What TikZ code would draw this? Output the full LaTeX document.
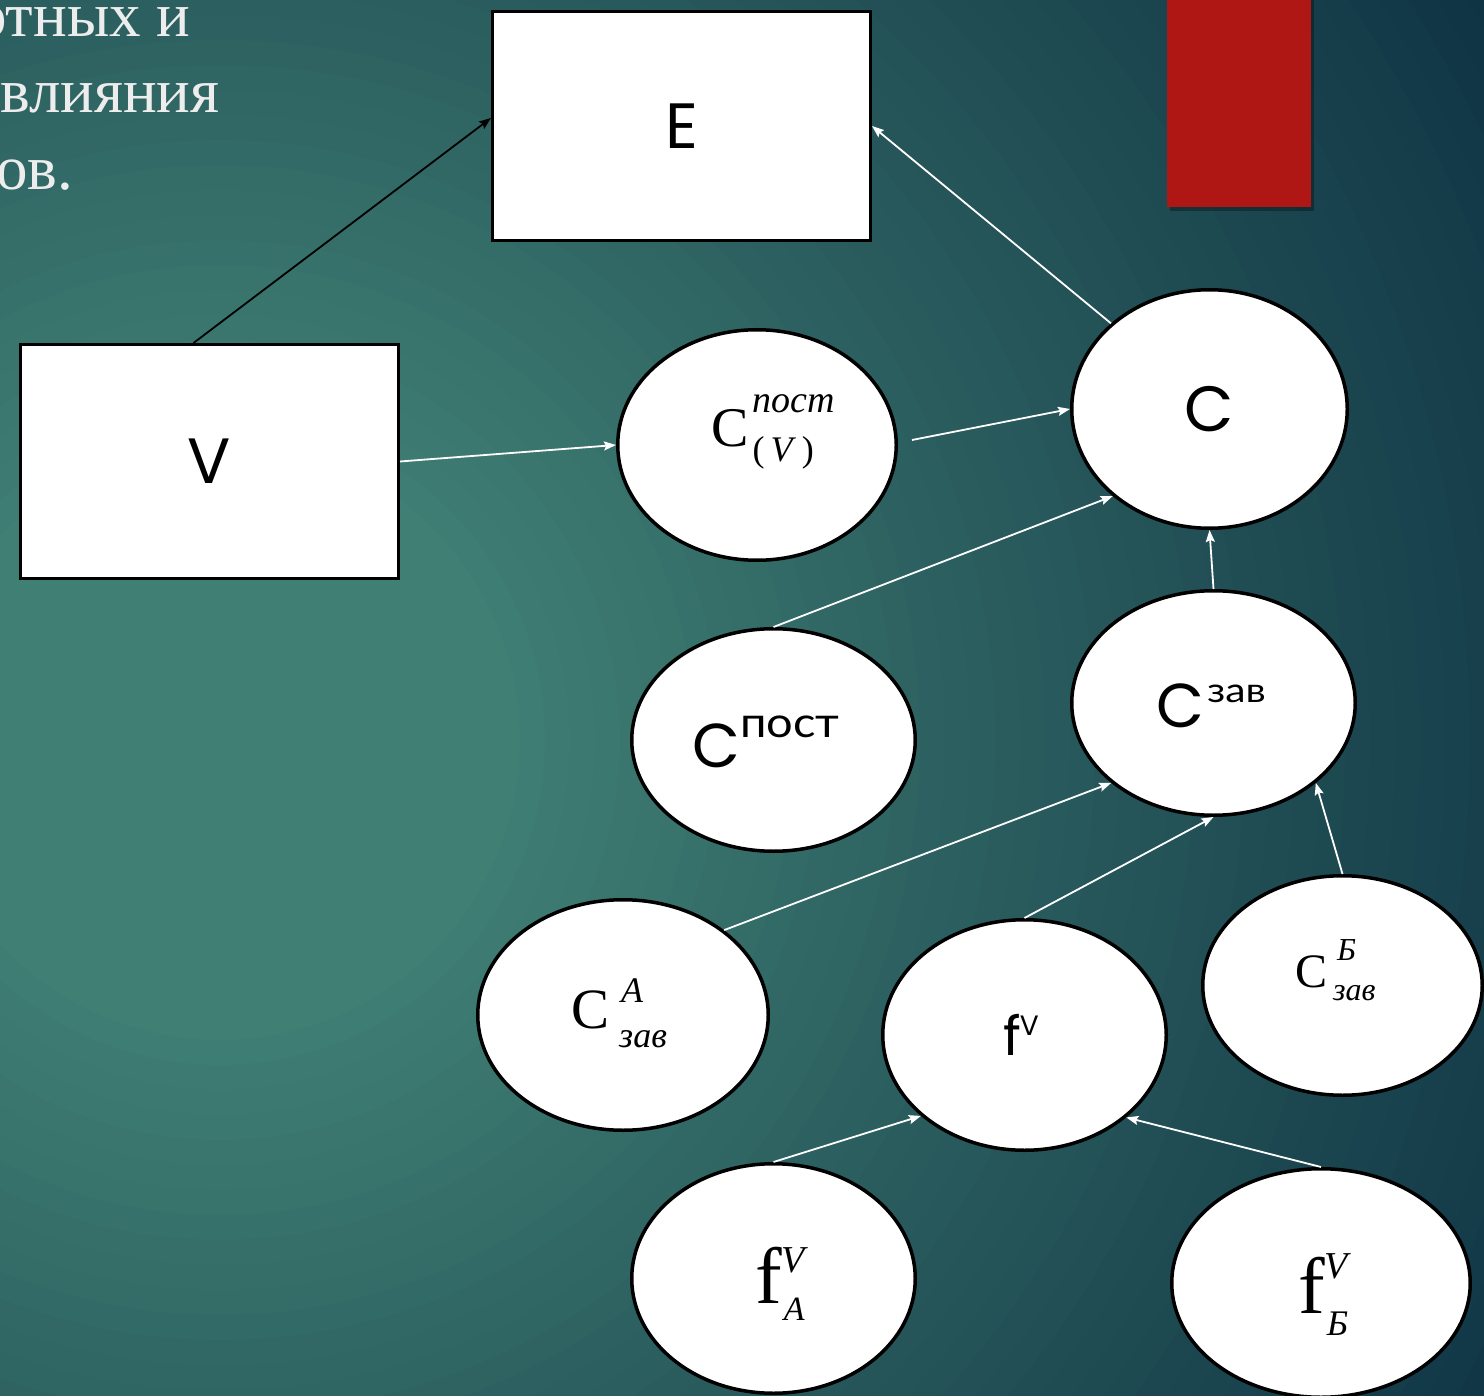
\documentclass[tikz,border=0pt]{standalone}
\usepackage{fontspec}
\usetikzlibrary{shapes.geometric,arrows.meta,calc}
\newfontfamily\geo{Poppins}
\newfontfamily\geocyr{Lato}
\newfontfamily\tnr{Liberation Serif}
\newcommand{\fsz}[1]{\fontsize{#1}{#1}\selectfont}
\definecolor{bgA}{HTML}{3F7F74}
\definecolor{bgC}{HTML}{2A5C5E}
\definecolor{bgF}{HTML}{0E3343}
\definecolor{redc}{HTML}{AF1714}
\definecolor{txtc}{HTML}{EDEDED}
\begin{document}
\begin{tikzpicture}[x=1pt,y=-1pt,
  box/.style={draw=black, line width=3pt, fill=white, rectangle, inner sep=0pt},
  ell/.style={draw=black, line width=3.5pt, fill=white, ellipse, inner sep=0pt},
  warr/.style={draw=white, line width=1.8pt, -{Stealth[length=12pt,width=9pt,inset=2pt]}},
  barr/.style={draw=black, line width=1.8pt, -{Stealth[length=12pt,width=9pt,inset=2pt]}},
  lbl/.style={anchor=base west, inner sep=0pt, text=black},
  toptxt/.style={anchor=base west, inner sep=0pt, text=txtc, font=\tnr\fsz{63}}]
\useasboundingbox (0,0) rectangle (1484,1396);
\begin{scope}
\clip (0,0) rectangle (1484,1396);
% background: radial gradient built from concentric discs
\fill[bgF] (0,0) rectangle (1484,1396);
\foreach \i in {60,...,33} {
  \pgfmathsetmacro\rr{\i*25}
  \pgfmathsetmacro\pp{(\rr-800)/7}
  \fill[bgF!\pp!bgC] (220,740) circle[radius=\rr];
}
\foreach \i in {32,...,12} {
  \pgfmathsetmacro\rr{\i*25}
  \pgfmathsetmacro\pp{(\rr-300)/5}
  \fill[bgC!\pp!bgA] (220,740) circle[radius=\rr];
}

% text at top left (cut off)
\node[toptxt] (t1) at (-25,37) {отных и};
\node[toptxt] (t2) at (0,113) {влияния};
\node[toptxt] (t3) at (-4,190) {ов.};

% red bar
\fill[black,opacity=0.3] (1170,0) rectangle (1314,211);
\fill[redc] (1167,-2) rectangle (1311,207);

% boxes
\node[box, minimum width=378pt, minimum height=229pt] (E) at (681.5,126) {\geo\fsz{64}E};
\node[box, minimum width=378pt, minimum height=234pt] (V) at (209.5,461.5) {\geo\fsz{64}V};

% ellipses
\node[ell, minimum width=278.5pt, minimum height=230.5pt] (Cpv) at (757,445) {};
\node[ell, minimum width=275.5pt, minimum height=238.5pt] (C) at (1209.5,409) {\geo\fsz{64}C};
\node[ell, minimum width=283.5pt, minimum height=222.5pt] (Cpost) at (773.5,740) {};
\node[ell, minimum width=283.5pt, minimum height=224.5pt] (Czav) at (1213.5,703) {};
\node[ell, minimum width=290.5pt, minimum height=230.5pt] (CAz) at (623,1015) {};
\node[ell, minimum width=283.5pt, minimum height=230.5pt] (fV) at (1024.5,1035) {};
\node[ell, minimum width=279.5pt, minimum height=219.5pt] (CBz) at (1342.5,985.5) {};
\node[ell, minimum width=283.5pt, minimum height=229.5pt] (fVA) at (773.5,1278.5) {};
\node[ell, minimum width=298.5pt, minimum height=228.5pt] (fVB) at (1321,1283) {};

% labels
\node[lbl] (lCpv) at (711,447) {{\tnr\fsz{56}C}\kern4pt\rlap{\raisebox{34pt}{\tnr\itshape\fsz{38}пост}}\raisebox{-15pt}{\tnr\fsz{36}(\,\textit{V}\,)}};
\node[lbl] (lCpost) at (692,767) {{\geo\fsz{62}C}\raisebox{30pt}{\geocyr\fsz{42}\scalebox{1.12}[1]{пост}}};
\node[lbl] (lCzav) at (1156,727) {{\geo\fsz{62}C}\kern3pt\raisebox{25pt}{\geocyr\fsz{34}\scalebox{1.2}[1]{зав}}};
\node[lbl] (lCAz) at (571,1028) {{\tnr\fsz{57}C}\kern10pt\rlap{\raisebox{26pt}{\kern2pt\tnr\itshape\fsz{36}A}}\raisebox{-19pt}{\tnr\itshape\fsz{36}зав}};
\node[lbl] (lCBz) at (1295,987) {{\tnr\fsz{48}C}\kern6pt\rlap{\raisebox{27pt}{\kern4pt\tnr\itshape\fsz{32}Б}}\raisebox{-13pt}{\tnr\itshape\fsz{32}зав}};
\node[lbl] (lfV) at (1003,1055) {{\geo\fsz{54}f}\kern-1pt\raisebox{20pt}{\geo\fsz{28}V}};
\node[lbl] (lfVA) at (755,1303) {{\tnr\fsz{80}f}\rlap{\raisebox{31pt}{\tnr\itshape\fsz{38}V}}\raisebox{-17pt}{\kern2pt\tnr\itshape\fsz{34}A}};
\node[lbl] (lfVB) at (1298,1313) {{\tnr\fsz{80}f}\rlap{\raisebox{35pt}{\tnr\itshape\fsz{38}V}}\raisebox{-22pt}{\kern2pt\tnr\itshape\fsz{36}Б}};

% connectors
\draw[barr] ([xshift=-16pt]V.north) -- ([yshift=8pt]E.west);
\draw[warr] (C.139) -- (E.east);
\draw[warr] (V.east) -- (Cpv.west);
\draw[warr] ([xshift=14pt,yshift=5pt]Cpv.east) -- (C.west);
\draw[warr] (Cpost.north) -- (C.222);
\draw[warr] (Czav.north) -- (C.south);
\draw[warr] (CAz.40) -- (Czav.218);
\draw[warr] (fV.north) -- (Czav.south);
\draw[warr] (CBz.north) -- (Czav.322);
\draw[warr] (fVA.north) -- (fV.218);
\draw[warr] (fVB.north) -- (fV.321);
\end{scope}
\end{tikzpicture}
\end{document}
